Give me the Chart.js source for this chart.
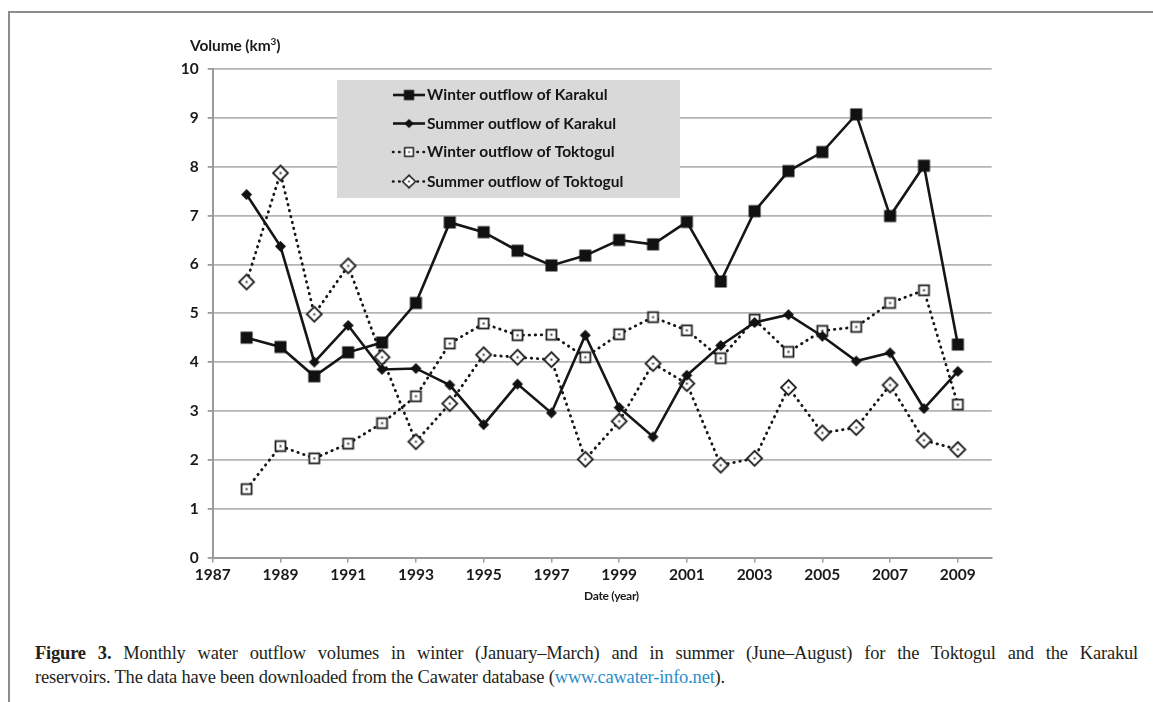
<!DOCTYPE html>
<html>
<head>
<meta charset="utf-8">
<script src="https://cdn.jsdelivr.net/npm/chart.js@4/dist/chart.umd.min.js"></script>
<style>
  html, body { margin: 0; padding: 0; background: #fff; }
  body { width: 1153px; height: 702px; position: relative; overflow: hidden; }
  #frameTop { position: absolute; left: 8px; top: 11px; width: 1145px; height: 2px; background: #8c8c8c; }
  #frameLeft { position: absolute; left: 8px; top: 11px; width: 2px; height: 691px; background: #8c8c8c; }
  #wrap { position: absolute; left: 0; top: 0; width: 1153px; height: 620px; }
  #ytitle { position: absolute; left: 190px; top: 36px; font: 700 15.5px Lato, sans-serif; color: #1a1a1a; letter-spacing: -0.1px; white-space: nowrap; }
  #ytitle sup { font-size: 10px; vertical-align: 6px; line-height: 0; }
  #xtitle { position: absolute; left: 584px; top: 588px; font: 700 12px Lato, sans-serif; color: #1a1a1a; white-space: nowrap; letter-spacing: -0.3px; }
  #caption { position: absolute; left: 35px; top: 641px; font: 18.5px "Liberation Serif", serif; line-height: 24px; color: #231f20; white-space: nowrap; }
  #caption b { font-weight: 700; }
  #caption a { color: #2a8ecb; text-decoration: none; }
</style>
</head>
<body>
<div id="frameTop"></div>
<div id="frameLeft"></div>
<div id="wrap"><canvas id="c" width="1153" height="620"></canvas></div>
<div id="ytitle">Volume (km<sup>3</sup>)</div>
<div id="xtitle">Date (year)</div>
<div id="caption"><span id="l1"><b>Figure 3.</b> Monthly water outflow volumes in winter (January–March) and in summer (June–August) for the Toktogul and the Karakul</span><br><span id="l2">reservoirs. The data have been downloaded from the Cawater database (<a>www.cawater-info.net</a>).</span></div>
<script>
// ---- data ----
const years = [1988, 1989, 1990, 1991, 1992, 1993, 1994, 1995, 1996, 1997, 1998, 1999, 2000, 2001, 2002, 2003, 2004, 2005, 2006, 2007, 2008, 2009];
const winterKarakul = [4.50, 4.31, 3.71, 4.20, 4.40, 5.21, 6.86, 6.66, 6.28, 5.98, 6.18, 6.50, 6.41, 6.87, 5.65, 7.09, 7.91, 8.30, 9.07, 6.99, 8.02, 4.36];
const summerKarakul = [7.43, 6.37, 4.00, 4.75, 3.85, 3.87, 3.53, 2.72, 3.55, 2.96, 4.55, 3.07, 2.47, 3.73, 4.34, 4.81, 4.97, 4.53, 4.02, 4.19, 3.05, 3.81];
const winterToktogul = [1.40, 2.28, 2.03, 2.33, 2.75, 3.30, 4.38, 4.79, 4.55, 4.56, 4.10, 4.57, 4.92, 4.65, 4.08, 4.87, 4.21, 4.64, 4.72, 5.21, 5.47, 3.13];
const summerToktogul = [5.64, 7.87, 4.98, 5.97, 4.10, 2.37, 3.15, 4.15, 4.10, 4.05, 2.01, 2.79, 3.97, 3.56, 1.89, 2.03, 3.48, 2.55, 2.66, 3.53, 2.40, 2.21];
const seriesLabels = ["Winter outflow of Karakul", "Summer outflow of Karakul", "Winter outflow of Toktogul", "Summer outflow of Toktogul"];
const xTickValues = [1987, 1989, 1991, 1993, 1995, 1997, 1999, 2001, 2003, 2005, 2007, 2009];
const yTickValues = [0, 1, 2, 3, 4, 5, 6, 7, 8, 9, 10];

// ---- marker images ----
function makeMarker(kind) {
  const s = 19, c = document.createElement('canvas');
  c.width = s; c.height = s;
  const g = c.getContext('2d'), m = s / 2;
  g.lineJoin = 'miter';
  if (kind === 'fsq') {
    g.fillStyle = '#111'; g.fillRect(m - 6, m - 6, 12, 12);
  } else if (kind === 'fdi') {
    g.fillStyle = '#111'; g.beginPath();
    g.moveTo(m, m - 5.5); g.lineTo(m + 5.5, m); g.lineTo(m, m + 5.5); g.lineTo(m - 5.5, m); g.closePath(); g.fill();
  } else if (kind === 'osq') {
    g.fillStyle = '#fff'; g.strokeStyle = '#222'; g.lineWidth = 1.8;
    g.fillRect(m - 5, m - 5, 10, 10); g.strokeRect(m - 5, m - 5, 10, 10);
    g.fillStyle = '#333'; g.fillRect(m - 1, m - 1, 2, 2);
  } else {
    g.fillStyle = '#fff'; g.strokeStyle = '#222'; g.lineWidth = 1.8; g.beginPath();
    g.moveTo(m, m - 7.5); g.lineTo(m + 7.5, m); g.lineTo(m, m + 7.5); g.lineTo(m - 7.5, m); g.closePath(); g.fill(); g.stroke();
    g.fillStyle = '#333'; g.fillRect(m - 1, m - 1, 2, 2);
  }
  return c;
}
const markers = [makeMarker('fsq'), makeMarker('fdi'), makeMarker('osq'), makeMarker('odi')];
const dashed = [false, false, true, true];
const DOT = [0.5, 5.6];

function pts(arr) { return years.map((y, i) => ({ x: y, y: arr[i] })); }
const seriesData = [winterKarakul, summerKarakul, winterToktogul, summerToktogul];

const datasets = seriesData.map((arr, i) => ({
  label: seriesLabels[i],
  data: pts(arr),
  borderColor: '#161616',
  backgroundColor: '#161616',
  borderWidth: dashed[i] ? 2.8 : 2.6,
  borderDash: dashed[i] ? DOT : [],
  borderCapStyle: dashed[i] ? 'round' : 'butt',
  pointStyle: markers[i],
  pointRadius: 7,
  tension: 0,
  order: i < 2 ? 0 : 1
}));

// ---- legend drawn inside plot ----
const legendBox = {
  id: 'legendBox',
  beforeDatasetsDraw(chart) {
    const ctx = chart.ctx;
    ctx.save();
    ctx.fillStyle = '#d9d9d9';
    ctx.fillRect(337, 80, 343, 118);
    const rows = [95, 123.5, 152, 181.5];
    rows.forEach((y, i) => {
      ctx.strokeStyle = '#161616';
      ctx.lineWidth = 2.6;
      ctx.setLineDash(dashed[i] ? DOT : []);
      ctx.lineCap = dashed[i] ? 'round' : 'butt';
      ctx.beginPath(); ctx.moveTo(393, y); ctx.lineTo(425, y); ctx.stroke();
      ctx.setLineDash([]);
      const mk = markers[i];
      const sc = 0.85;
      ctx.drawImage(mk, 409 - mk.width * sc / 2, y - mk.height * sc / 2, mk.width * sc, mk.height * sc);
      ctx.fillStyle = '#151515';
      ctx.font = '700 15.5px Lato, sans-serif';
      ctx.textBaseline = 'middle';
      ctx.textAlign = 'left';
      ctx.fillText(seriesLabels[i], 427, y);
    });
    ctx.restore();
  }
};

const ctx = document.getElementById('c').getContext('2d');
new Chart(ctx, {
  type: 'line',
  data: { datasets },
  options: {
    responsive: false,
    devicePixelRatio: 1,
    animation: false,
    events: [],
    layout: { padding: { left: 0, right: 161.3, top: 69, bottom: 0 } },
    plugins: { legend: { display: false }, tooltip: { enabled: false } },
    scales: {
      x: {
        type: 'linear', min: 1987, max: 2010,
        afterBuildTicks: (s) => { s.ticks = xTickValues.map(v => ({ value: v })); },
        afterFit: (s) => { s.height = 620 - 557.5; },
        ticks: { callback: (v) => String(v), color: '#1a1a1a', font: { family: 'Lato', size: 15.5, weight: '700' }, padding: 3, maxRotation: 0, autoSkip: false },
        grid: { drawOnChartArea: false, drawTicks: true, tickLength: 5, color: '#9a9a9a', lineWidth: 1.5 },
        border: { display: true, color: '#9a9a9a', width: 2 }
      },
      y: {
        min: 0, max: 10,
        afterBuildTicks: (s) => { s.ticks = yTickValues.map(v => ({ value: v })); },
        afterFit: (s) => { s.width = 212.7; },
        ticks: { color: '#1a1a1a', font: { family: 'Lato', size: 15.5, weight: '700' }, padding: 9 },
        grid: { color: '#b4b4b4', lineWidth: 1.8, tickLength: 5, tickColor: '#9a9a9a' },
        border: { display: true, color: '#9a9a9a', width: 2 }
      }
    }
  },
  plugins: [legendBox]
});

// fit caption lines to the reference line extents (line 2 natural, line 1 justified)
(function () {
  const cap = document.getElementById('caption');
  const l1 = document.getElementById('l1'), l2 = document.getElementById('l2');
  const w2 = l2.getBoundingClientRect().width;
  const ls = (690 - w2) / l2.textContent.length;
  cap.style.letterSpacing = ls.toFixed(3) + 'px';
  const w1 = l1.getBoundingClientRect().width;
  const spaces = (l1.textContent.match(/ /g) || []).length;
  l1.style.wordSpacing = Math.max(0, (1103 - w1) / spaces).toFixed(3) + 'px';
})();
</script>
</body>
</html>
